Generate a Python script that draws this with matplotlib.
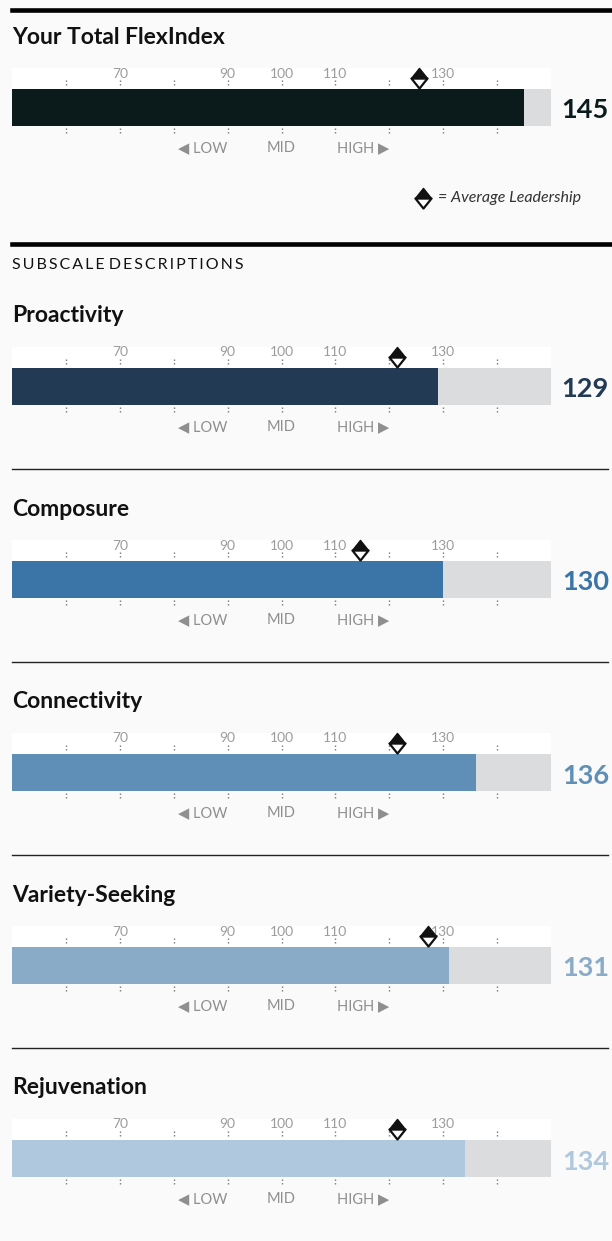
import matplotlib
matplotlib.use("Agg")
import matplotlib.pyplot as plt
from matplotlib.path import Path
from matplotlib.lines import Line2D

plt.rcParams['font.family'] = ['Lato', 'DejaVu Sans']

W, H = 612, 1241

# data
total_label = "Your Total FlexIndex"
total_score = 145
total_avg = 125.5
total_color = "#0b1a1b"

subscales = ["Proactivity", "Composure", "Connectivity", "Variety-Seeking", "Rejuvenation"]
sub_scores = [129, 130, 136, 131, 134]
sub_avgs = [121.4, 114.6, 121.4, 127.2, 121.4]
sub_colors = ["#223a54", "#3b74a6", "#5f8fb7", "#89abc8", "#b0c8dd"]

scale_min, scale_max = 50, 150
tick_pos = [60, 70, 80, 90, 100, 110, 120, 130, 140]
tick_labels = [70, 90, 100, 110, 130]

BAR_H = 37
GRAY = "#dbdcdd"

fig = plt.figure(figsize=(W / 100, H / 100), dpi=100)
fig.patch.set_facecolor("#fafafa")

# split diamond marker (top half black, bottom half white)
top_half = Path([(-0.8, 0), (0, 1), (0.8, 0), (-0.8, 0)],
                [Path.MOVETO, Path.LINETO, Path.LINETO, Path.CLOSEPOLY])
bot_half = Path([(-0.8, 0), (0, -1), (0.8, 0), (-0.8, 0)],
                [Path.MOVETO, Path.LINETO, Path.LINETO, Path.CLOSEPOLY])


def draw_marker(ax, x, y, ms=14.5):
    ax.plot(x, y, marker=bot_half, ms=ms, mfc="white", mec="#111111", mew=1.6,
            ls="none", clip_on=False, zorder=5)
    ax.plot(x, y, marker=top_half, ms=ms, mfc="#111111", mec="#111111", mew=1.0,
            ls="none", clip_on=False, zorder=6)


def fy(y):
    return 1 - y / H


def draw_bar(title, bar_top, score, avg, color):
    # title
    fig.text(12 / W, fy(bar_top - 52), title, fontsize=16.5, fontweight="bold",
             color="#111111", va="center", ha="left")
    left, right = 12, 551
    top, bottom = bar_top - 21, bar_top + BAR_H + 12
    ax = fig.add_axes([left / W, fy(bottom), (right - left) / W, (bottom - top) / H])
    ax.set_xlim(scale_min, scale_max)
    ax.set_ylim(BAR_H + 12, -21)
    ax.axis("off")
    ax.axhspan(-21, 0, color="white", zorder=0)
    ax.barh(BAR_H / 2, scale_max - scale_min, left=scale_min, height=BAR_H,
            color=GRAY, zorder=1)
    ax.barh(BAR_H / 2, score - scale_min, left=scale_min, height=BAR_H,
            color=color, zorder=2)
    ax.vlines(tick_pos, -9, -2, colors="#777777", linestyles=(0, (1, 1.6)), lw=1)
    ax.vlines(tick_pos, BAR_H + 2, BAR_H + 9, colors="#777777",
              linestyles=(0, (1, 1.6)), lw=1)
    for t in tick_labels:
        ax.text(t, -15.5, str(t), ha="center", va="center", fontsize=10,
                color="#9c9c9c")
    ax.text(89.9, BAR_H + 22, "\u25C0 LOW", ha="right", va="center", fontsize=10.5,
            color="#8f8f8f", clip_on=False)
    ax.text(100, BAR_H + 22, "MID", ha="center", va="center", fontsize=10.5,
            color="#8f8f8f", clip_on=False)
    ax.text(110.3, BAR_H + 22, "HIGH \u25B6", ha="left", va="center", fontsize=10.5,
            color="#8f8f8f", clip_on=False)
    draw_marker(ax, avg, -11)
    fig.text(609 / W, fy(bar_top + BAR_H / 2 + 3), str(score), fontsize=19.5,
             fontweight="bold", color=color, ha="right", va="center")
    return ax


# thick rules
fig.add_artist(Line2D([12 / W, 1], [fy(10.3), fy(10.3)], color="black", lw=3.3))
fig.add_artist(Line2D([12 / W, 1], [fy(244), fy(244)], color="black", lw=3.3))

ax0 = draw_bar(total_label, 89, total_score, total_avg, total_color)

# legend for average marker
lax = fig.add_axes([0, 0, 1, 1], facecolor="none")
lax.set_xlim(0, W)
lax.set_ylim(H, 0)
lax.axis("off")
draw_marker(lax, 423, 198)
lax.text(438, 198, "= Average Leadership", fontsize=11.5, style="italic",
         color="#333333", va="center", ha="left")

heading = "\u2009".join("SUBSCALE") + " " + "\u2009".join("DESCRIPTIONS")
fig.text(12 / W, fy(265), heading, fontsize=11.5, color="#111111",
         va="center", ha="left")

for i, (name, sc, av, col) in enumerate(zip(subscales, sub_scores, sub_avgs, sub_colors)):
    top = 368 + 193 * i
    draw_bar(name, top, sc, av, col)
    if i < len(subscales) - 1:
        fig.add_artist(Line2D([12 / W, 608 / W], [fy(top + 101), fy(top + 101)],
                              color="#222222", lw=1))

fig.savefig("out.png", dpi=100, facecolor=fig.get_facecolor())
